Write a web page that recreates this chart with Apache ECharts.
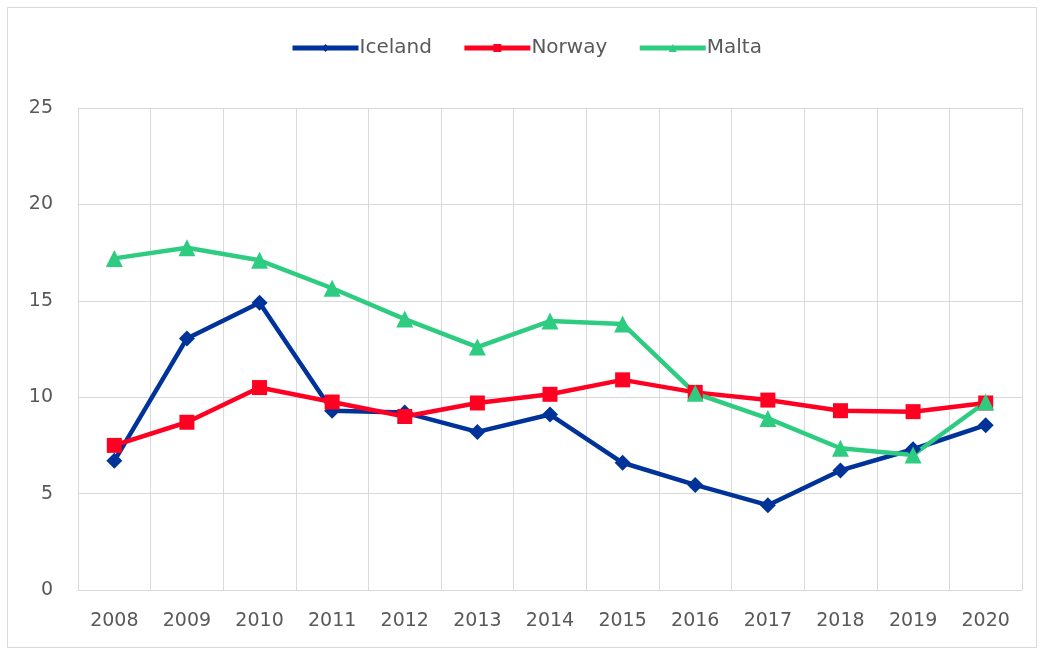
<!DOCTYPE html>
<html><head><meta charset="utf-8">
<script src="https://cdn.jsdelivr.net/npm/echarts@6/dist/echarts.min.js"></script>
<style>html,body{margin:0;padding:0;background:#fff}#c{width:1043px;height:654px}</style>
</head><body><div id="c"></div>
<script>
const years = ['2008','2009','2010','2011','2012','2013','2014','2015','2016','2017','2018','2019','2020'];
const iceland = [6.7, 13.05, 14.9, 9.3, 9.2, 8.2, 9.1, 6.6, 5.45, 4.4, 6.2, 7.3, 8.55];
const norway = [7.5, 8.7, 10.5, 9.75, 9.0, 9.7, 10.15, 10.9, 10.25, 9.85, 9.3, 9.25, 9.7];
const malta = [17.2, 17.75, 17.1, 15.65, 14.05, 12.6, 13.95, 13.8, 10.2, 8.9, 7.35, 7.0, 9.75];
const yTicks = [0, 5, 10, 15, 20, 25];

const chart = echarts.init(document.getElementById('c'), null, {renderer:'canvas'});
const font = 'DejaVu Sans';
function s(name, data, color, symbol, size){
  return {name, type:'line', data, symbol, symbolSize:size, showSymbol:true,
    lineStyle:{color, width:4.5}, itemStyle:{color}, z: 3};
}
chart.setOption({
  animation:false,
  graphic:[{type:'rect', shape:{x:7.5,y:7.5,width:1029,height:640}, style:{fill:'none', stroke:'#d9d9d9', lineWidth:1}, z:-1}],
  legend:{top:38, left:290, padding:0, itemWidth:66, itemHeight:10, itemGap:30,
    lineStyle:{width:5},
    textStyle:{color:'#595959', fontSize:20, fontFamily:font, padding:[0,0,0,-4]},
    data:['Iceland','Norway','Malta']},
  grid:{left:78, right:21, top:108, bottom:64, containLabel:false},
  xAxis:{type:'category', data:years, boundaryGap:true,
    axisLine:{show:true, lineStyle:{color:'#d9d9d9'}}, axisTick:{show:false},
    axisLabel:{color:'#595959', fontSize:19, fontFamily:font, margin:22, interval:0},
    splitLine:{show:true, interval:0, lineStyle:{color:'#d9d9d9', width:1}}},
  yAxis:{type:'value', min:yTicks[0], max:yTicks[yTicks.length-1], interval:5,
    axisLine:{show:false}, axisTick:{show:false},
    axisLabel:{color:'#595959', fontSize:19, fontFamily:font, margin:25},
    splitLine:{lineStyle:{color:'#d9d9d9', width:1}}},
  series:[
    s('Iceland', iceland, '#003399', 'diamond', 16),
    s('Norway', norway, '#ff0022', 'rect', 15),
    s('Malta', malta, '#2ecc80', 'triangle', 17)
  ]
});
</script></body></html>
